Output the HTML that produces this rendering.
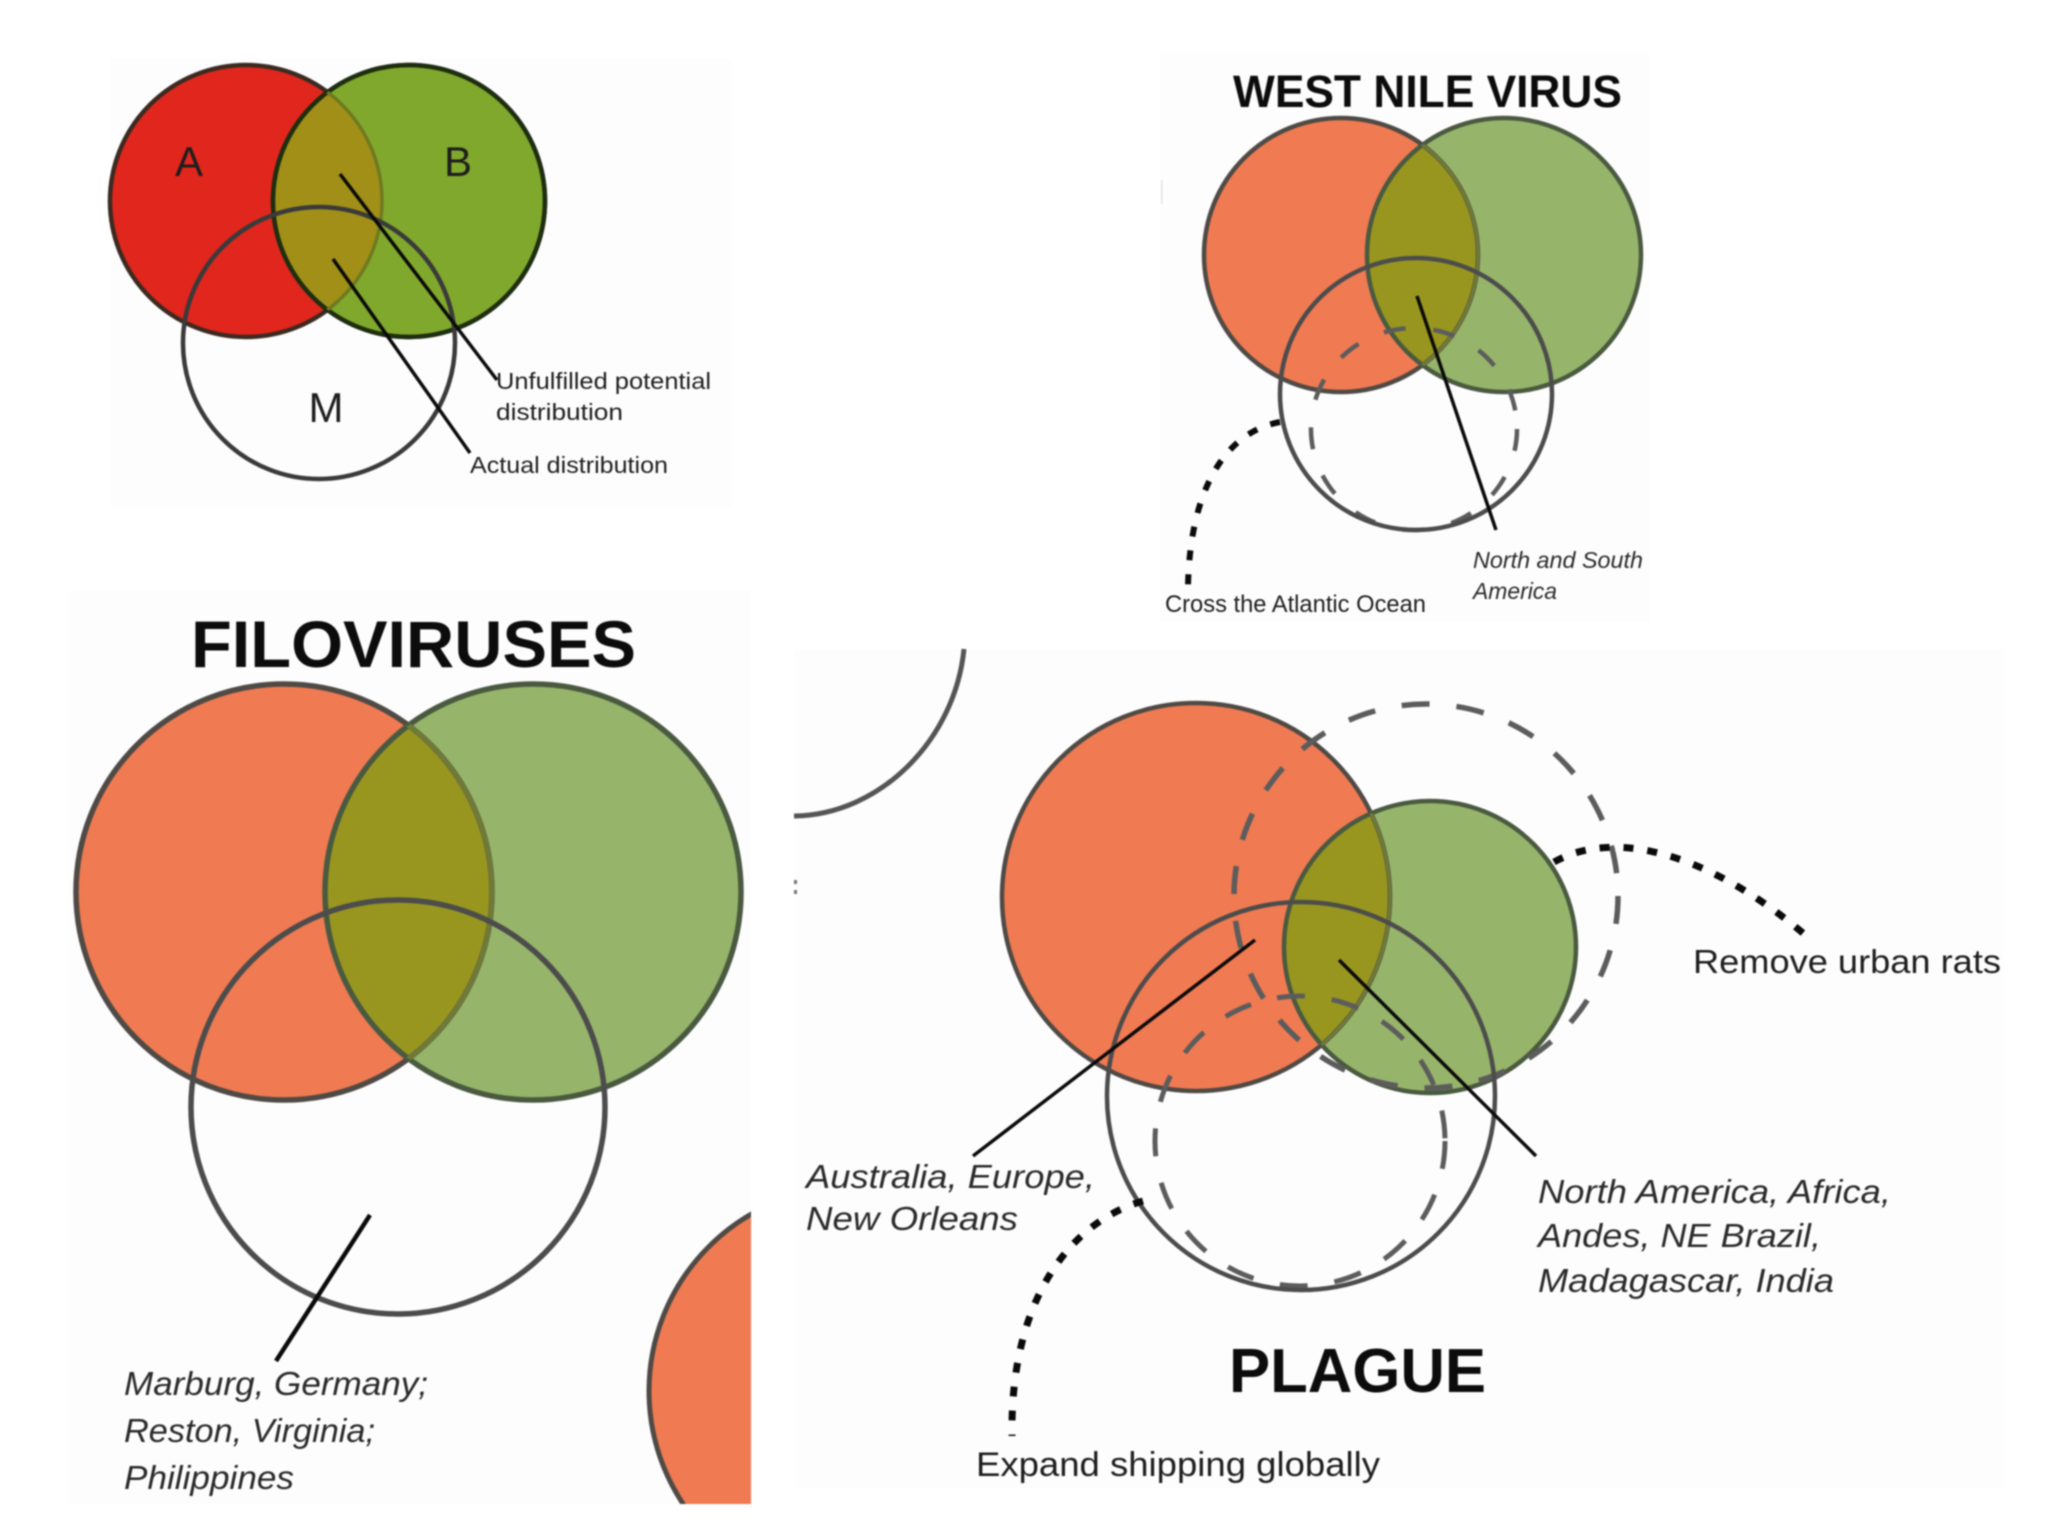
<!DOCTYPE html>
<html lang="en">
<head>
<meta charset="utf-8">
<title>Distribution diagrams</title>
<style>
html,body{margin:0;padding:0;background:#fff;width:2048px;height:1536px;overflow:hidden}
svg{display:block;filter:blur(.8px)}
text{font-family:"Liberation Sans",sans-serif;fill:#1e1e1e}
.it{font-style:italic;fill:#2a2a2a}
.tt{font-weight:bold;fill:#0c0c0c}
.o{fill:#f07a52}.g{fill:#96b46a}.ov{fill:#98961f}
.sk{fill:none;stroke:#4f4a45;stroke-width:4.5}
.in{fill:none;stroke:#6f7a38;stroke-width:3.5}
.m{fill:none;stroke:#4c4c4c;stroke-width:4.5}
.d{fill:none;stroke:#5c5c5c;stroke-width:5;stroke-dasharray:28 27}
.dot{fill:none;stroke:#0a0a0a;stroke-width:6;stroke-dasharray:10 14}
.l{stroke:#0a0a0a;stroke-width:3.5;fill:none}
</style>
</head>
<body>
<svg width="2048" height="1536" viewBox="0 0 2048 1536" xmlns="http://www.w3.org/2000/svg">
<defs>
<clipPath id="c1"><circle cx="409" cy="201" r="136"/></clipPath>
<clipPath id="c2"><circle cx="1504" cy="255" r="137"/></clipPath>
<clipPath id="c3"><circle cx="533" cy="892" r="208"/></clipPath>
<clipPath id="c4"><circle cx="1430" cy="947" r="146"/></clipPath>
<clipPath id="p3"><rect x="60" y="590" width="691" height="914"/></clipPath>
</defs>

<rect x="110" y="58" width="622" height="450" fill="#fdfdfe"/>
<rect x="1160" y="52" width="490" height="570" fill="#fdfdfe"/>
<rect x="68" y="590" width="683" height="914" fill="#fdfdfe"/>
<rect x="794" y="649" width="1210" height="840" fill="#fdfdfe"/>

<!-- Panel 1 -->
<circle cx="246" cy="201" r="136" fill="#e0261d" stroke="#3c2a20" stroke-width="4.5"/>
<circle cx="409" cy="201" r="136" fill="#80a82c" stroke="#1e2e10" stroke-width="4.5"/>
<circle cx="246" cy="201" r="136" fill="#a18f18" clip-path="url(#c1)"/>
<circle cx="409" cy="201" r="136" fill="none" stroke="#1e2e10" stroke-width="4.5"/>
<circle cx="246" cy="201" r="136" fill="none" stroke="#6f7a20" stroke-width="3.5" clip-path="url(#c1)"/>
<circle cx="319" cy="343" r="136" fill="none" stroke="#3a3a3a" stroke-width="4.5"/>
<line class="l" x1="340" y1="174" x2="497" y2="380"/>
<line class="l" x1="333" y1="259" x2="470" y2="453"/>
<text x="189" y="176" font-size="42" text-anchor="middle">A</text>
<text x="458" y="176" font-size="42" text-anchor="middle">B</text>
<text x="326" y="422" font-size="42" text-anchor="middle">M</text>
<text x="496" y="389" font-size="23" textLength="215" lengthAdjust="spacingAndGlyphs">Unfulfilled potential</text>
<text x="496" y="420" font-size="23" textLength="127" lengthAdjust="spacingAndGlyphs">distribution</text>
<text x="470" y="473" font-size="23" textLength="198" lengthAdjust="spacingAndGlyphs">Actual distribution</text>

<!-- Panel 2 West Nile -->
<text class="tt" x="1233" y="107" font-size="45" textLength="389" lengthAdjust="spacingAndGlyphs">WEST NILE VIRUS</text>
<circle class="o" cx="1341" cy="255" r="137"/>
<circle class="g" cx="1504" cy="255" r="137"/>
<circle class="ov" cx="1341" cy="255" r="137" clip-path="url(#c2)"/>
<circle class="sk" cx="1341" cy="255" r="137"/>
<circle class="sk" cx="1504" cy="255" r="137" style="stroke:#4a5a40"/>
<circle class="in" cx="1341" cy="255" r="137" clip-path="url(#c2)"/>
<ellipse class="d" cx="1414" cy="429" rx="103" ry="101" style="stroke-width:4.5;stroke-dasharray:22 28"/>
<circle class="m" cx="1416" cy="394" r="136"/>
<path class="dot" d="M1280 422 C1225 432 1190 490 1188 586"/>
<line class="l" x1="1417" y1="296" x2="1496" y2="530"/>
<text x="1165" y="612" font-size="24" textLength="261" lengthAdjust="spacingAndGlyphs">Cross the Atlantic Ocean</text>
<text class="it" x="1473" y="568" font-size="23" textLength="170" lengthAdjust="spacingAndGlyphs">North and South</text>
<text class="it" x="1473" y="599" font-size="23" textLength="84" lengthAdjust="spacingAndGlyphs">America</text>
<rect x="1161" y="180" width="1.5" height="24" fill="#e4e4e4"/>

<!-- Panel 3 Filoviruses -->
<text class="tt" x="191" y="667" font-size="66" textLength="445" lengthAdjust="spacingAndGlyphs">FILOVIRUSES</text>
<circle class="o" cx="284" cy="892" r="208"/>
<circle class="g" cx="533" cy="892" r="208"/>
<circle class="ov" cx="284" cy="892" r="208" clip-path="url(#c3)"/>
<circle class="sk" cx="284" cy="892" r="208" style="stroke-width:5.5"/>
<circle class="sk" cx="533" cy="892" r="208" style="stroke:#4a5a40;stroke-width:5.5"/>
<circle class="in" cx="284" cy="892" r="208" clip-path="url(#c3)" style="stroke-width:5"/>
<circle class="m" cx="398" cy="1107" r="207" style="stroke-width:5.5"/>
<line class="l" x1="370" y1="1215" x2="276" y2="1361" style="stroke-width:4.5"/>
<text class="it" x="124" y="1395" font-size="33" textLength="304" lengthAdjust="spacingAndGlyphs">Marburg, Germany;</text>
<text class="it" x="124" y="1442" font-size="33" textLength="251" lengthAdjust="spacingAndGlyphs">Reston, Virginia;</text>
<text class="it" x="124" y="1489" font-size="33" textLength="170" lengthAdjust="spacingAndGlyphs">Philippines</text>
<g clip-path="url(#p3)">
<circle class="o" cx="853" cy="1391" r="204" style="stroke:#4f4a45;stroke-width:5"/>
</g>

<!-- Panel 4 Plague -->
<path d="M964 649 C955 740 880 815 794 816" fill="none" stroke="#555" stroke-width="5"/>
<rect x="794" y="880" width="3" height="4" fill="#777"/>
<rect x="794" y="890" width="3" height="4" fill="#777"/>
<circle class="o" cx="1196" cy="897" r="194"/>
<circle class="g" cx="1430" cy="947" r="146"/>
<circle class="ov" cx="1196" cy="897" r="194" clip-path="url(#c4)"/>
<circle class="sk" cx="1196" cy="897" r="194"/>
<circle class="sk" cx="1430" cy="947" r="146" style="stroke:#4a5a40"/>
<circle class="in" cx="1196" cy="897" r="194" clip-path="url(#c4)"/>
<circle class="d" cx="1426" cy="896" r="192" style="stroke-width:5.5"/>
<circle class="d" cx="1300" cy="1141" r="145"/>
<circle class="m" cx="1301" cy="1096" r="194"/>
<path class="dot" d="M1554 862 C1620 825 1720 860 1811 940" style="stroke-width:7"/>
<path class="dot" d="M1143 1201 C1070 1222 1010 1300 1012 1436" style="stroke-width:7"/>
<line class="l" x1="1255" y1="940" x2="973" y2="1156"/>
<line class="l" x1="1339" y1="960" x2="1536" y2="1156"/>
<text x="1693" y="973" font-size="33" textLength="308" lengthAdjust="spacingAndGlyphs">Remove urban rats</text>
<text class="it" x="806" y="1188" font-size="33" textLength="289" lengthAdjust="spacingAndGlyphs">Australia, Europe,</text>
<text class="it" x="806" y="1230" font-size="33" textLength="212" lengthAdjust="spacingAndGlyphs">New Orleans</text>
<text class="it" x="1538" y="1203" font-size="33" textLength="353" lengthAdjust="spacingAndGlyphs">North America, Africa,</text>
<text class="it" x="1538" y="1247" font-size="33" textLength="283" lengthAdjust="spacingAndGlyphs">Andes, NE Brazil,</text>
<text class="it" x="1538" y="1292" font-size="33" textLength="296" lengthAdjust="spacingAndGlyphs">Madagascar, India</text>
<text class="tt" x="1229" y="1392" font-size="62" textLength="257" lengthAdjust="spacingAndGlyphs">PLAGUE</text>
<text x="976" y="1476" font-size="34" textLength="404" lengthAdjust="spacingAndGlyphs">Expand shipping globally</text>
</svg>
</body>
</html>
